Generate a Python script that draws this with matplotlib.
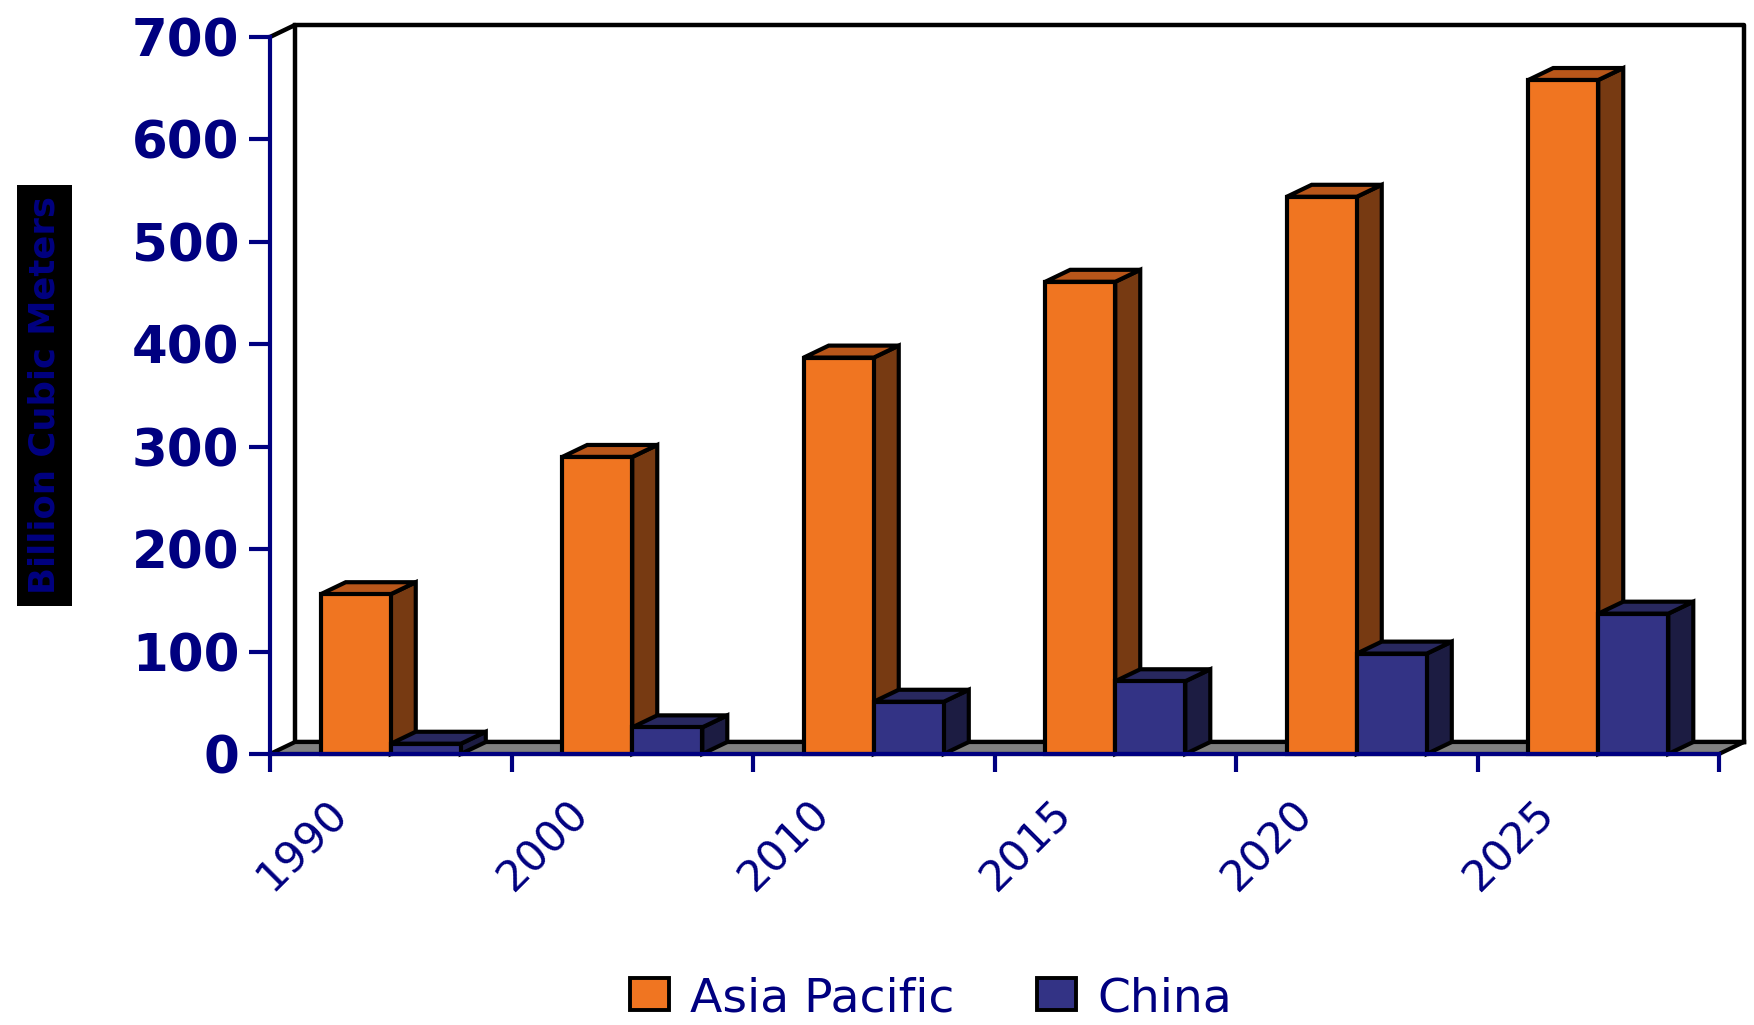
import matplotlib
matplotlib.use('Agg')
import matplotlib.pyplot as plt
from matplotlib.patches import Polygon, Rectangle
from matplotlib import font_manager

# values (billion cubic meters)
years = ['1990', '2000', '2010', '2015', '2020', '2025']
asia_pacific = [156, 290, 387, 461, 544, 658]
china = [10, 26, 51, 71, 98, 137]
series_names = ['Asia Pacific', 'China']
y_ticks = [0, 100, 200, 300, 400, 500, 600, 700]

NAVY = '#000080'
# front, top, side shades for each series
shades = [('#F07521', '#B8561A', '#773A12'),
          ('#333385', '#28285F', '#1C1C42')]

W, H = 1754, 1025
fig = plt.figure(figsize=(W / 100, H / 100), dpi=100)
ax_l, ax_b, ax_w, ax_h = 270, 271, 1449, 717
ax = fig.add_axes([ax_l / W, ax_b / H, ax_w / W, ax_h / H])

n = len(years)
ymax = y_ticks[-1]
ax.set_xlim(0, n)
ax.set_ylim(0, ymax)

# depth offset of the fake 3d, pixels -> data units
DX = 25 / ax_w * n
DY = 12 / ax_h * ymax
LW = 3.0

# back wall outline + floor
ax.plot([0, DX, DX, n + DX, n + DX], [ymax, ymax + DY, DY, DY, DY],
        color='black', lw=3.2, clip_on=False, zorder=1)
ax.plot([DX, n + DX, n + DX], [ymax + DY, ymax + DY, DY],
        color='black', lw=3.2, clip_on=False, zorder=1)
floor = Polygon([(0, 0), (n, 0), (n + DX, DY), (DX, DY)], closed=True,
                facecolor='#808080', edgecolor='black', lw=LW, zorder=2,
                clip_on=False)
ax.add_patch(floor)


def draw_bar(x0, w, v, cols, z):
    front, top, side = cols
    kw = dict(edgecolor='black', lw=LW, joinstyle='miter', clip_on=False, zorder=z)
    ax.add_patch(Polygon([(x0 + w, 0), (x0 + w + DX, DY), (x0 + w + DX, v + DY), (x0 + w, v)],
                         facecolor=side, **kw))
    ax.add_patch(Polygon([(x0, v), (x0 + w, v), (x0 + w + DX, v + DY), (x0 + DX, v + DY)],
                         facecolor=top, **kw))
    ax.add_patch(Rectangle((x0, 0), w, v, facecolor=front, **kw))


bw = 0.29
z = 3
for i in range(n):
    c = i + 0.5
    draw_bar(c - bw, bw, asia_pacific[i], shades[0], z)
    draw_bar(c, bw, china[i], shades[1], z + 1)
    z += 2

# axes styling
for s in ['top', 'right']:
    ax.spines[s].set_visible(False)
for s in ['left', 'bottom']:
    ax.spines[s].set_color(NAVY)
    ax.spines[s].set_linewidth(3)
    ax.spines[s].set_zorder(50)
ax.set_facecolor('none')

ax.set_yticks(y_ticks)
ax.set_yticklabels([str(t) for t in y_ticks])
ax.tick_params(axis='y', length=15, width=3, color=NAVY, labelsize=37,
               labelcolor=NAVY, pad=7)
for lbl in ax.get_yticklabels():
    lbl.set_fontweight('bold')

ax.set_xticks(range(n + 1))
ax.set_xticklabels([])
ax.tick_params(axis='x', length=13, width=3, color=NAVY)

for i, yr in enumerate(years):
    ax.annotate(yr, xy=(i + 0.23, 0), xytext=(0, -38), textcoords='offset pixels',
                rotation=45, rotation_mode='anchor', ha='right', va='top',
                fontsize=31, color=NAVY, annotation_clip=False)

# y label in a black box
names = {f.name for f in font_manager.fontManager.ttflist}
if 'Liberation Sans Narrow' in names:
    ylab_family, ylab_size = 'Liberation Sans Narrow', 36
else:
    ylab_family, ylab_size = 'DejaVu Sans', 25.5
fig.patches.append(Rectangle((17 / W, 419 / H), 55 / W, 421 / H,
                             transform=fig.transFigure, facecolor='black'))
fig.text(44.5 / W, 629.5 / H, 'Billion Cubic Meters', rotation=90, ha='center',
         va='center', color=NAVY, fontweight='bold', family=ylab_family,
         fontsize=ylab_size)

# legend
leg_x = [630, 1037]
for k, name in enumerate(series_names):
    fig.patches.append(Rectangle((leg_x[k] / W, 15 / H), 39 / W, 32 / H,
                                 transform=fig.transFigure, facecolor=shades[k][0],
                                 edgecolor='black', lw=2.8))
    fig.text((leg_x[k] + 60) / W, 13 / H, name, ha='left', va='baseline',
             fontsize=34, color=NAVY)

fig.savefig('out.png', dpi=100)
